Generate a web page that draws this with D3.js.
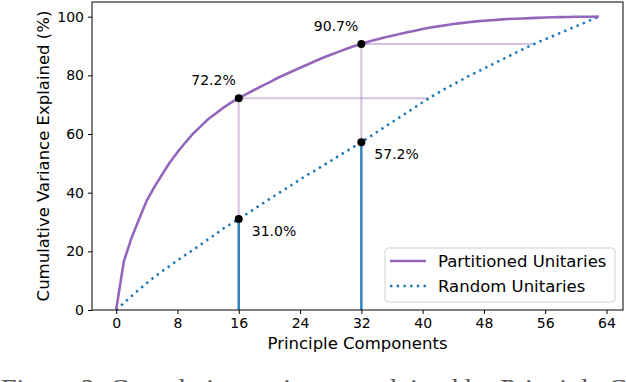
<!DOCTYPE html>
<html>
<head>
<meta charset="utf-8">
<script src="https://cdn.jsdelivr.net/npm/d3@7"></script>
<style>
  body { margin: 0; background: #fff; }
  svg { display: block; }
</style>
</head>
<body>
<div id="chart"></div>
<script>
// data, one value per component (0..63)
let components = d3.range(0, 64);
let partitioned = [0, 16.5, 24.5, 31.0, 37.3, 42.0, 46.2, 50.3, 53.8, 57.0, 60.0, 62.5, 65.0, 67.0, 69.0, 70.7,
  72.2, 73.6, 75.0, 76.3, 77.6, 79.0, 80.2, 81.4, 82.6, 83.7, 84.9, 86.0, 87.0, 88.0, 89.0, 89.9,
  90.7, 91.5, 92.2, 92.9, 93.5, 94.1, 94.7, 95.2, 95.8, 96.3, 96.7, 97.1, 97.5, 97.8, 98.1, 98.4,
  98.6, 98.8, 99.0, 99.2, 99.3, 99.4, 99.5, 99.6, 99.7, 99.8, 99.85, 99.9, 99.95, 99.97, 99.99, 100];
let random = [0, 2.4, 4.7, 7.0, 9.2, 11.3, 13.2, 15.0, 16.9, 18.7, 20.4, 22.2, 24.1, 25.9, 27.8, 29.4,
  31.0, 32.7, 34.4, 36.1, 37.8, 39.5, 41.1, 42.8, 44.5, 46.1, 47.6, 49.2, 50.8, 52.4, 54.0, 55.6,
  57.2, 58.9, 60.6, 62.3, 64.0, 65.7, 67.4, 69.1, 70.8, 72.5, 74.0, 75.5, 76.9, 78.3, 79.7, 81.0,
  82.3, 83.6, 84.9, 86.2, 87.5, 88.8, 90.0, 91.2, 92.3, 93.4, 94.5, 95.6, 96.7, 97.8, 98.9, 100];
let markedAt = [16, 32];
let partitionedMarks = [72.2, 90.7];
let randomMarks = [31.0, 57.2];
let xTicks = [0, 8, 16, 24, 32, 40, 48, 56, 64];
let yTicks = [0, 20, 40, 60, 80, 100];
let seriesNames = ["Partitioned Unitaries", "Random Unitaries"];

let width = 626, height = 382;
let mLeft = 92, mRight = 623, mTop = 2, mBottom = 310;
let purple = "#9467bd", blue = "#1f77b4";
let sans = "DejaVu Sans, sans-serif";

let svg = d3.select("#chart").append("svg")
  .attr("width", width).attr("height", height)
  .style("font-family", sans);

let x = d3.scaleLinear().domain([-3.15, 66.15]).range([mLeft, mRight]);
let y = d3.scaleLinear().domain([0, 105]).range([mBottom, mTop]);

// where the random curve reaches a given value
function crossing(v) {
  let i = random.findIndex(r => r >= v);
  if (i <= 0) return i;
  return i - 1 + (v - random[i - 1]) / (random[i] - random[i - 1]);
}

// guide lines
let guides = svg.append("g");
markedAt.forEach(function(c, i) {
  guides.append("line")
    .attr("x1", x(c)).attr("x2", x(crossing(partitionedMarks[i])))
    .attr("y1", y(partitionedMarks[i])).attr("y2", y(partitionedMarks[i]))
    .attr("stroke", purple).attr("stroke-opacity", 0.4).attr("stroke-width", 2);
  guides.append("line")
    .attr("x1", x(c)).attr("x2", x(c))
    .attr("y1", y(partitionedMarks[i])).attr("y2", y(randomMarks[i]))
    .attr("stroke", purple).attr("stroke-opacity", 0.4).attr("stroke-width", 2);
  guides.append("line")
    .attr("x1", x(c)).attr("x2", x(c))
    .attr("y1", y(randomMarks[i])).attr("y2", y(0))
    .attr("stroke", blue).attr("stroke-opacity", 0.9).attr("stroke-width", 2.5);
});

let line = d3.line().x((d, i) => x(components[i])).y(d => y(d));

svg.append("path").datum(random)
  .attr("d", line).attr("fill", "none")
  .attr("stroke", blue).attr("stroke-width", 2.5)
  .attr("stroke-dasharray", "2.4,4.3");

svg.append("path").datum(partitioned)
  .attr("d", line).attr("fill", "none")
  .attr("stroke", purple).attr("stroke-width", 2.6);

// markers + labels
markedAt.forEach(function(c, i) {
  svg.append("circle").attr("cx", x(c)).attr("cy", y(partitionedMarks[i])).attr("r", 4).attr("fill", "#000");
  svg.append("circle").attr("cx", x(c)).attr("cy", y(randomMarks[i])).attr("r", 4).attr("fill", "#000");
  svg.append("text").text(partitionedMarks[i].toFixed(1) + "%")
    .attr("x", x(c) - 3).attr("y", y(partitionedMarks[i]) - 13)
    .attr("text-anchor", "end").attr("font-size", 14);
  svg.append("text").text(randomMarks[i].toFixed(1) + "%")
    .attr("x", x(c) + 13).attr("y", y(randomMarks[i]) + 17)
    .attr("font-size", 14);
});

// axes
let xAxis = d3.axisBottom(x).tickValues(xTicks).tickSizeOuter(0).tickSizeInner(4).tickPadding(4);
let yAxis = d3.axisLeft(y).tickValues(yTicks).tickSizeOuter(0).tickSizeInner(4).tickPadding(4);

svg.append("g").attr("transform", "translate(0," + mBottom + ")").call(xAxis)
  .call(g => g.select(".domain").remove())
  .selectAll("text").attr("font-size", 14).attr("font-family", sans).attr("fill", "#000");
svg.append("g").attr("transform", "translate(" + mLeft + ",0)").call(yAxis)
  .call(g => g.select(".domain").remove())
  .selectAll("text").attr("font-size", 14).attr("font-family", sans).attr("fill", "#000");

svg.append("rect")
  .attr("x", mLeft).attr("y", mTop).attr("width", mRight - mLeft).attr("height", mBottom - mTop)
  .attr("fill", "none").attr("stroke", "#000").attr("stroke-width", 1);

svg.append("text").text("Principle Components")
  .attr("x", (mLeft + mRight) / 2).attr("y", 349)
  .attr("text-anchor", "middle").attr("font-size", 16.5);

svg.append("text").text("Cumulative Variance Explained (%)")
  .attr("transform", "translate(48.5," + (mTop + mBottom) / 2 + ") rotate(-90)")
  .attr("text-anchor", "middle").attr("font-size", 16.5);

// legend
let legend = svg.append("g").attr("transform", "translate(385,248)");
legend.append("rect").attr("width", 230).attr("height", 54).attr("rx", 3)
  .attr("fill", "#fff").attr("fill-opacity", 0.8).attr("stroke", "#d0d0d0");
seriesNames.forEach(function(name, i) {
  let ly = 13 + i * 25;
  legend.append("line").attr("x1", 5).attr("x2", 41).attr("y1", ly).attr("y2", ly)
    .attr("stroke", i === 0 ? purple : blue).attr("stroke-width", 2.5)
    .attr("stroke-dasharray", i === 0 ? null : "2.4,4.3");
  legend.append("text").text(name).attr("x", 53).attr("y", ly + 6).attr("font-size", 16.5);
});

// caption cut off at the bottom of the picture
svg.append("text").text("Figure 2: Cumulative variance explained by Principle Components")
  .attr("x", 1).attr("y", 397.5)
  .style("font-family", "Liberation Serif, serif")
  .attr("font-size", 28).attr("fill", "#555");
</script>
</body>
</html>
